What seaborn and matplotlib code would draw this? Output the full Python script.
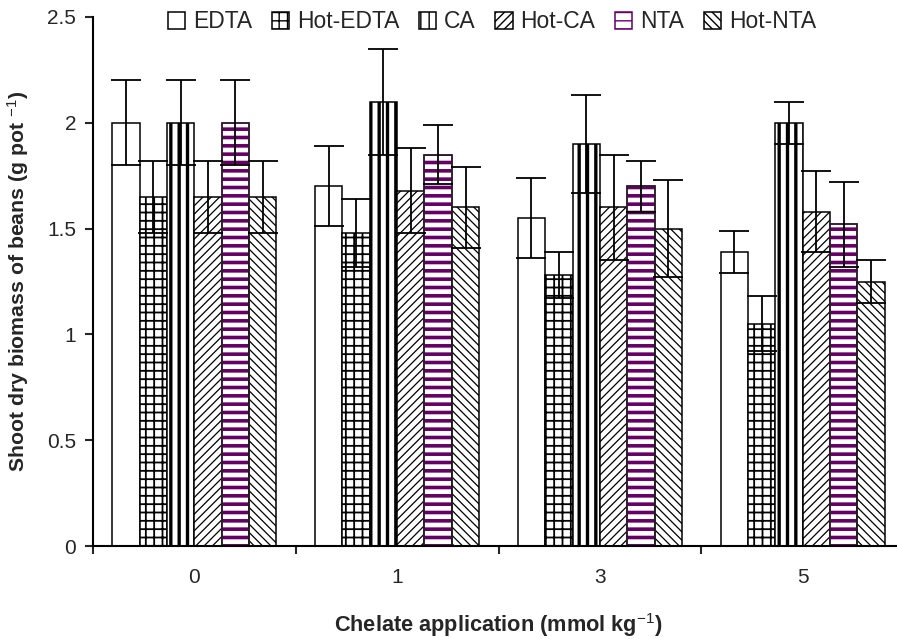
import numpy as np
import pandas as pd
import matplotlib
matplotlib.use("Agg")
import matplotlib.pyplot as plt
import matplotlib.patches as mpatches
from matplotlib.ticker import FixedLocator
import seaborn as sns

doses = ["0", "1", "3", "5"]
chelates = ["EDTA", "Hot-EDTA", "CA", "Hot-CA", "NTA", "Hot-NTA"]
edta = [2.00, 1.70, 1.55, 1.39]
hot_edta = [1.65, 1.48, 1.28, 1.05]
ca = [2.00, 2.10, 1.90, 2.00]
hot_ca = [1.65, 1.68, 1.60, 1.58]
nta = [2.00, 1.85, 1.70, 1.52]
hot_nta = [1.65, 1.60, 1.50, 1.25]
edta_err = [0.20, 0.19, 0.19, 0.10]
hot_edta_err = [0.17, 0.16, 0.11, 0.13]
ca_err = [0.20, 0.25, 0.23, 0.10]
hot_ca_err = [0.17, 0.20, 0.25, 0.19]
nta_err = [0.20, 0.14, 0.12, 0.20]
hot_nta_err = [0.17, 0.19, 0.23, 0.10]
yticks = [0, 0.5, 1, 1.5, 2, 2.5]
ytick_labels = ["0", "0.5", "1", "1.5", "2", "2.5"]

values = [edta, hot_edta, ca, hot_ca, nta, hot_nta]
errors = [edta_err, hot_edta_err, ca_err, hot_ca_err, nta_err, hot_nta_err]
rows = []
for c, vals, errs in zip(chelates, values, errors):
    for d, v, e in zip(doses, vals, errs):
        rows.append({"dose": d, "chelate": c, "value": v, "err": e})
df = pd.DataFrame(rows)

sns.set_style("white")
plt.rcParams["font.family"] = ["Liberation Sans", "DejaVu Sans"]
plt.rcParams["mathtext.fontset"] = "custom"
plt.rcParams["mathtext.rm"] = "Liberation Sans"
plt.rcParams["mathtext.it"] = "Liberation Sans:italic"
plt.rcParams["mathtext.bf"] = "Liberation Sans:bold"
plt.rcParams["hatch.linewidth"] = 1.0

fig = plt.figure(figsize=(8.97, 6.39), dpi=100)
ax = fig.add_axes([93 / 897, 93 / 639, (904 - 93) / 897, (546 - 17) / 639])

sns.barplot(data=df, x="dose", y="value", hue="chelate", order=doses,
            hue_order=chelates, errorbar=None, width=0.81, gap=0,
            fill=True, palette=["white"] * 6,
            edgecolor="black", linewidth=1.1, legend=False, ax=ax)

purple = "#660066"
styles = {
    "EDTA": dict(hatch=None, ec="black", hlw=1.0),
    "Hot-EDTA": dict(hatch="++", ec="black", hlw=1.3),
    "CA": dict(hatch="||", ec="black", hlw=2.4),
    "Hot-CA": dict(hatch="////", ec="black", hlw=0.9),
    "NTA": dict(hatch="--", ec=purple, hlw=2.6),
    "Hot-NTA": dict(hatch="\\\\\\\\", ec="black", hlw=0.9),
}

for cont, c in zip(ax.containers, chelates):
    st = styles[c]
    errs = df[df.chelate == c].set_index("dose").loc[doses, "err"].values
    for p in cont.patches:
        p.set_facecolor("white")
        p.set_edgecolor(st["ec"])
        if st["hatch"]:
            p.set_hatch(st["hatch"])
        if hasattr(p, "set_hatch_linewidth"):
            p.set_hatch_linewidth(st["hlw"])
        if c == "NTA":
            outline = mpatches.Rectangle(p.get_xy(), p.get_width(), p.get_height(),
                                         fill=False, ec="#222222", lw=1.1, zorder=p.get_zorder() + 0.1)
            ax.add_patch(outline)
    xs = [p.get_x() + p.get_width() / 2 for p in cont.patches]
    ys = [p.get_height() for p in cont.patches]
    ax.errorbar(xs, ys, yerr=errs, fmt="none", ecolor="black", elinewidth=1.3,
                capsize=11, capthick=1.3, zorder=5)

ax.set_ylim(0, 2.5)
ax.set_xlim(-0.5, 3.5)
ax.yaxis.set_major_locator(FixedLocator(yticks))
ax.set_yticklabels(ytick_labels)
ax.tick_params(axis="y", direction="out", length=6, width=1.5, labelsize=15, pad=6, left=True)
ax.tick_params(axis="x", which="major", length=0, labelsize=15, pad=16)
ax.set_xticks([-0.5, 0.5, 1.5, 2.5, 3.5], minor=True)
ax.tick_params(axis="x", which="minor", direction="out", length=6, width=1.5, bottom=True)

for s in ["top", "right"]:
    ax.spines[s].set_visible(False)
for s in ["left", "bottom"]:
    ax.spines[s].set_color("black")
    ax.spines[s].set_linewidth(1.5)

ax.set_xlabel(r"Chelate application (mmol kg$^{-1}$)", fontsize=15.7, fontweight="bold", labelpad=17)
ax.set_ylabel(r"Shoot dry biomass of beans (g pot $^{-1}$)", fontsize=15.3, fontweight="bold", labelpad=12)

leg = ax.legend(ax.containers, chelates, loc="upper center", bbox_to_anchor=(0.492, 1.03),
                ncol=6, frameon=False, fontsize=16.5, handlelength=0.75, handleheight=0.75,
                handletextpad=0.35, columnspacing=0.85, borderaxespad=0)

fig.savefig("out.png", dpi=100)
